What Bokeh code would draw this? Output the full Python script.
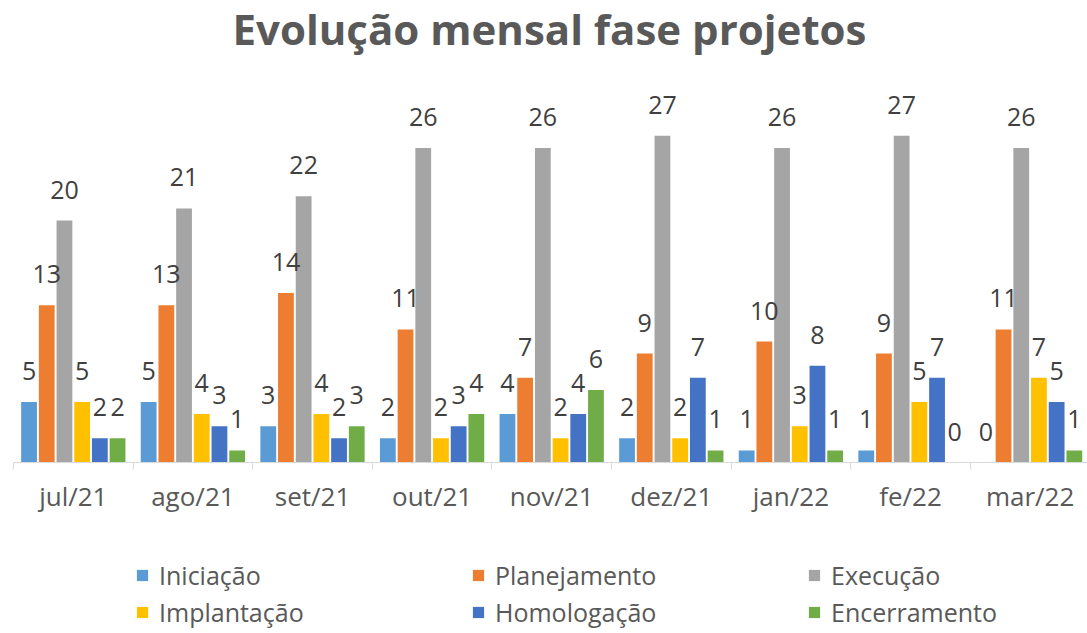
from bokeh.plotting import figure
from bokeh.layouts import column
from bokeh.models import (ColumnDataSource, LabelSet, Label, Legend, LegendItem,
                          FixedTicker, Range1d)
from bokeh.core.properties import value
from bokeh.embed import file_html
from bokeh.resources import INLINE

# ---- data ----
title_text = "Evolução mensal fase projetos"
months = ["jul/21", "ago/21", "set/21", "out/21", "nov/21", "dez/21", "jan/22", "fe/22", "mar/22"]
iniciacao = [5, 5, 3, 2, 4, 2, 1, 1, 0]
planejamento = [13, 13, 14, 11, 7, 9, 10, 9, 11]
execucao = [20, 21, 22, 26, 26, 27, 26, 27, 26]
implantacao = [5, 4, 4, 2, 2, 2, 3, 5, 7]
homologacao = [2, 3, 2, 3, 4, 7, 8, 7, 5]
encerramento = [2, 1, 3, 4, 6, 1, 1, 0, 1]
series_names = ["Iniciação", "Planejamento", "Execução", "Implantação", "Homologação", "Encerramento"]
series_values = [iniciacao, planejamento, execucao, implantacao, homologacao, encerramento]
colors = ["#5B9BD5", "#ED7D31", "#A5A5A5", "#FFC000", "#4472C4", "#70AD47"]

FONT = "Open Sans"
slot = 0.148
bar_w = 0.132
W = 1087


def bare(fig):
    fig.outline_line_color = None
    fig.grid.visible = False
    fig.background_fill_color = "white"
    fig.border_fill_color = "white"


# ---- title strip ----
title_fig = figure(width=W, height=78, x_range=Range1d(0, 1), y_range=Range1d(0, 1),
                   output_backend="svg", toolbar_location=None,
                   x_axis_location=None, y_axis_location=None,
                   min_border_left=0, min_border_right=0, min_border_top=0, min_border_bottom=0)
bare(title_fig)
title_fig.add_layout(Label(x=536, y=50, x_units="screen", y_units="screen", text=title_text,
                           text_align="center", text_baseline="alphabetic",
                           text_font=FONT, text_font_style="bold", text_font_size="42px",
                           text_color="#595959"))

# ---- chart ----
p = figure(width=W, height=462, x_range=Range1d(0, 8.98), y_range=Range1d(0, 31.74),
           output_backend="svg", toolbar_location=None, y_axis_location=None,
           min_border_left=13, min_border_right=0, min_border_top=0, min_border_bottom=78)
bare(p)

centers = [i + 0.5 for i in range(len(months))]
bounds = [float(i) for i in range(len(months) + 1)]

# ---- legend strip ----
legend_fig = figure(width=W, height=93, x_range=Range1d(0, 1), y_range=Range1d(0, 1),
                    output_backend="svg", toolbar_location=None,
                    x_axis_location=None, y_axis_location=None,
                    min_border_left=0, min_border_right=0, min_border_top=0, min_border_bottom=0)
bare(legend_fig)

items = []
for j, (name, vals, col) in enumerate(zip(series_names, series_values, colors)):
    xs = [c + (j - 2.5) * slot for c in centers]
    src = ColumnDataSource(dict(x=xs, top=vals, label=[str(v) for v in vals]))
    p.vbar(x="x", top="top", width=bar_w, bottom=0, source=src,
           fill_color=col, line_color=None)
    labels = LabelSet(x="x", y="top", text="label", source=src, text_align="center",
                      text_baseline="alphabetic", y_offset=22,
                      text_font=value(FONT), text_font_size=value("25px"),
                      text_color=value("#404040"))
    p.add_layout(labels)
    # legend proxy with the same colour (drawn outside the visible range)
    lr = legend_fig.vbar(x=[-5], top=[0], width=0.1, fill_color=col, line_color=None)
    items.append(LegendItem(label=name, renderers=[lr]))

ax = p.xaxis[0]
ax.ticker = FixedTicker(ticks=centers, minor_ticks=bounds)
ax.major_label_overrides = {c: m for c, m in zip(centers, months)}
ax.axis_line_color = "#D9D9D9"
ax.axis_line_width = 1
ax.major_tick_line_color = None
ax.minor_tick_line_color = "#D9D9D9"
ax.minor_tick_in = 0
ax.minor_tick_out = 7
ax.major_label_standoff = 8
ax.major_label_text_font = FONT
ax.major_label_text_font_size = "26px"
ax.major_label_text_color = "#595959"

legend = Legend(items=items, orientation="horizontal", ncols=3,
                glyph_width=14, glyph_height=14, label_standoff=10,
                label_width=309, label_height=24, spacing=3,
                label_text_font=FONT, label_text_font_size="25px",
                label_text_color="#595959", border_line_color=None,
                background_fill_alpha=0, padding=0, margin=0,
                location=(122, 4))
legend_fig.add_layout(legend, "center")

layout = column(title_fig, p, legend_fig, spacing=0)
open("out.html", "w").write(file_html(layout, INLINE))
